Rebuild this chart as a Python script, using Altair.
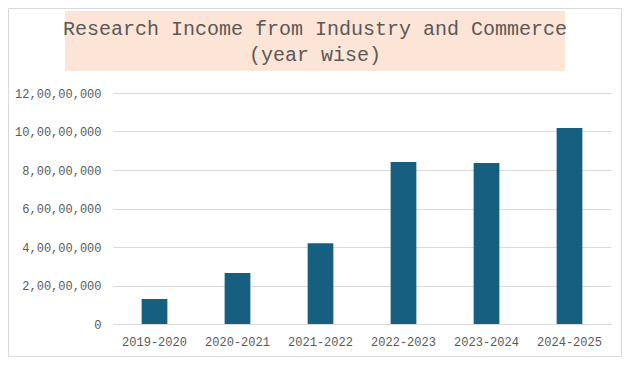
import altair as alt
import pandas as pd

years = ["2019-2020", "2020-2021", "2021-2022", "2022-2023", "2023-2024", "2024-2025"]
income = [13000000, 26500000, 42000000, 84200000, 83600000, 101800000]
tick_values = [0, 20000000, 40000000, 60000000, 80000000, 100000000, 120000000]
tick_labels = ["0", "2,00,00,000", "4,00,00,000", "6,00,00,000", "8,00,00,000", "10,00,00,000", "12,00,00,000"]
title_lines = ["Research Income from Industry and Commerce", "(year wise)"]

df = pd.DataFrame({"year": years, "income": income})
label_map = "{" + ",".join(f"'{v}':'{l}'" for v, l in zip(tick_values, tick_labels)) + "}"

FONT = "Liberation Mono"
GREY = "#595959"

bars = alt.Chart(df).mark_bar(color="#175F81").encode(
    x=alt.X("year:N", sort=years, title=None,
            scale=alt.Scale(paddingInner=0.69, paddingOuter=0.345),
            axis=alt.Axis(labelAngle=0, ticks=False, domainColor="#D9D9D9",
                          labelFont=FONT, labelFontSize=12, labelColor=GREY,
                          labelPadding=12, grid=False)),
    y=alt.Y("income:Q", title=None,
            scale=alt.Scale(domain=[0, 120000000], nice=False),
            axis=alt.Axis(values=tick_values, labelExpr=label_map + "[''+datum.value]",
                          domain=False, ticks=False, gridColor="#D9D9D9",
                          labelFont=FONT, labelFontSize=12, labelColor=GREY,
                          labelPadding=12)),
)

deco_df = pd.DataFrame({"k": [0]})
border = alt.Chart(deco_df).mark_rect(fill="transparent", stroke="#D9D9D9", strokeWidth=1).encode(
    x=alt.value(-104.5), x2=alt.value(508.5), y=alt.value(-84.5), y2=alt.value(263.5)
)
box = alt.Chart(deco_df).mark_rect(fill="#FCE4D6").encode(
    x=alt.value(-48), x2=alt.value(452), y=alt.value(-82), y2=alt.value(-22)
)
t1 = alt.Chart(deco_df).mark_text(font=FONT, fontSize=20, color=GREY, baseline="middle").encode(
    x=alt.value(202), y=alt.value(-64), text=alt.value(title_lines[0])
)
t2 = alt.Chart(deco_df).mark_text(font=FONT, fontSize=20, color=GREY, baseline="middle").encode(
    x=alt.value(202), y=alt.value(-38), text=alt.value(title_lines[1])
)

chart = alt.layer(border, box, t1, t2, bars).properties(
    width=498, height=231,
    background="white",
    autosize=alt.AutoSizeParams(type="none"),
    padding={"left": 105, "top": 85, "right": 11, "bottom": 33},
).configure_view(strokeWidth=0, stroke="transparent")

chart.save("out.html", embed_options={"renderer": "svg", "actions": False})
